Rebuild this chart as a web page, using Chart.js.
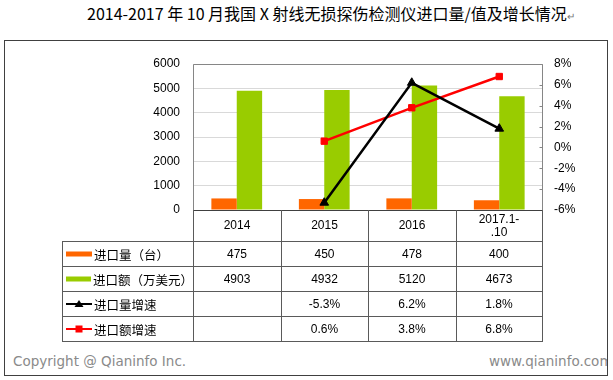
<!DOCTYPE html>
<html><head><meta charset="utf-8">
<script src="https://cdn.jsdelivr.net/npm/chart.js@4"></script>
<style>
body{margin:0;width:613px;height:380px;position:relative;background:#fff;overflow:hidden;font-family:"Liberation Sans",Arial,sans-serif}
#title{position:absolute;left:87px;top:1px;white-space:nowrap;font:16px "Noto Sans CJK SC",sans-serif;color:#000}
#title .pm{font-size:10px;color:#777}
#box{position:absolute;left:4px;top:40px;width:602px;height:334px;border:1px solid #404040;overflow:hidden}
#copy{position:absolute;left:8px;top:312px;font:13.5px "DejaVu Sans",sans-serif;color:#8a8a8a;white-space:nowrap}
#web{position:absolute;left:484px;top:312px;font:13.5px "DejaVu Sans",sans-serif;color:#8a8a8a;white-space:nowrap}
#c{position:absolute;left:0;top:0}
.ln{position:absolute;background:#5a5a5a}
.cell{position:absolute;display:flex;align-items:center;justify-content:center;text-align:center;font:12px "Liberation Sans",Arial,sans-serif;color:#000;line-height:13px}
.lab{position:absolute;display:flex;align-items:center;font:12.5px "Noto Sans CJK SC",sans-serif;color:#000;white-space:nowrap}
.lab svg{margin-left:3px;margin-right:2px}
</style></head>
<body>
<div id="title">2014-2017 年 10 月我国 X 射线无损探伤检测仪进口量/值及增长情况<span class="pm">↵</span></div>
<div id="box"><div id="copy">Copyright @ Qianinfo Inc.</div><div id="web">www.qianinfo.com</div></div>
<canvas id="c" width="613" height="380"></canvas>
<div id="tbl"></div>
<script>
const categories = [['2014'], ['2015'], ['2016'], ['2017.1-', '.10']];
const seriesNames = ['进口量（台）', '进口额（万美元）', '进口量增速', '进口额增速'];
const importQty = [475, 450, 478, 400];
const importValue = [4903, 4932, 5120, 4673];
const qtyGrowth = [null, -5.3, 6.2, 1.8];
const valueGrowth = [null, 0.6, 3.8, 6.8];
const leftTicks = [0, 1000, 2000, 3000, 4000, 5000, 6000];
const rightTicks = [-6, -4, -2, 0, 2, 4, 6, 8];

const ORANGE = '#FF6600', GREEN = '#99CC00', BLACK = '#000000', RED = '#FF0000';

const framePlugin = {
  id: 'frame',
  beforeDatasetsDraw(chart) {
    const a = chart.chartArea, ctx = chart.ctx;
    const L = Math.round(a.left) + 0.5, R = Math.round(a.right) - 0.5, T = Math.round(a.top) + 0.5, B = Math.round(a.bottom) + 0.5;
    ctx.save();
    ctx.lineWidth = 1;
    ctx.strokeStyle = '#868686';
    ctx.beginPath();
    ctx.moveTo(L, B); ctx.lineTo(L, T); ctx.lineTo(R, T); ctx.lineTo(R, B);
    ctx.stroke();
    // small inward tick marks on the right axis
    chart.scales.y1.ticks.forEach(t => {
      const y = Math.round(chart.scales.y1.getPixelForValue(t.value)) + 0.5;
      ctx.beginPath(); ctx.moveTo(R - 3, y); ctx.lineTo(R, y); ctx.stroke();
    });
    ctx.restore();
  },
  afterDatasetsDraw(chart) {
    const a = chart.chartArea, ctx = chart.ctx;
    ctx.save();
    ctx.strokeStyle = '#404040';
    ctx.lineWidth = 1;
    ctx.beginPath();
    ctx.moveTo(Math.round(a.left), Math.round(a.bottom) + 0.5);
    ctx.lineTo(Math.round(a.right), Math.round(a.bottom) + 0.5);
    ctx.stroke();
    ctx.restore();
  }
};

const chart = new Chart(document.getElementById('c'), {
  data: {
    labels: categories.map(c => c.join('')),
    datasets: [
      { type: 'line', label: seriesNames[2], data: qtyGrowth, yAxisID: 'y1', order: 0,
        borderColor: BLACK, backgroundColor: BLACK, borderWidth: 2.5, pointStyle: 'triangle',
        pointRadius: 5, pointBorderWidth: 1, tension: 0, spanGaps: false },
      { type: 'line', label: seriesNames[3], data: valueGrowth, yAxisID: 'y1', order: 0,
        borderColor: RED, backgroundColor: RED, borderWidth: 2.5, pointStyle: 'rect',
        pointRadius: 4.5, pointBorderWidth: 1, tension: 0 },
      { type: 'bar', label: seriesNames[0], data: importQty, yAxisID: 'y', order: 1,
        backgroundColor: ORANGE, categoryPercentage: 0.58, barPercentage: 1 },
      { type: 'bar', label: seriesNames[1], data: importValue, yAxisID: 'y', order: 1,
        backgroundColor: GREEN, categoryPercentage: 0.58, barPercentage: 1 }
    ]
  },
  options: {
    responsive: false,
    animation: false,
    events: [],
    layout: { padding: { top: 64, bottom: 170, left: 0, right: 0 } },
    plugins: { legend: { display: false }, title: { display: false }, tooltip: { enabled: false } },
    scales: {
      x: { display: false, offset: true },
      y: {
        position: 'left', min: 0, max: 6000,
        afterBuildTicks: s => { s.ticks = leftTicks.map(v => ({ value: v })); },
        afterFit: s => { s.width = 193; },
        ticks: { padding: 13, color: '#000', font: { family: '"Liberation Sans", Arial, sans-serif', size: 12 },
                 callback: v => String(v) },
        grid: { color: '#d9d9d9', drawTicks: false },
        border: { display: false }
      },
      y1: {
        position: 'right', min: -6, max: 8,
        afterBuildTicks: s => { s.ticks = rightTicks.map(v => ({ value: v })); },
        afterFit: s => { s.width = 70; },
        ticks: { padding: 11, color: '#000', font: { family: '"Liberation Sans", Arial, sans-serif', size: 12 },
                 callback: v => v + '%' },
        grid: { drawOnChartArea: false, drawTicks: false },
        border: { display: false }
      }
    }
  },
  plugins: [framePlugin]
});

// data table aligned to the chart's category scale
(function buildTable() {
  const a = chart.chartArea;
  const xs = chart.scales.x;
  const tbl = document.getElementById('tbl');
  const n = categories.length;
  const half = (xs.getPixelForValue(1) - xs.getPixelForValue(0)) / 2;
  const edges = [];
  for (let i = 0; i < n; i++) edges.push(Math.round(xs.getPixelForValue(i) - half));
  edges.push(Math.round(a.right) - 1);
  const tableLeft = 62;
  const top0 = Math.round(a.bottom);
  const rowsY = [top0, top0 + 31, top0 + 56, top0 + 81, top0 + 106, top0 + 131];
  const add = (cls, st, html) => { const d = document.createElement('div'); d.className = cls; Object.assign(d.style, st); if (html !== undefined) d.innerHTML = html; tbl.appendChild(d); return d; };
  for (let r = 1; r < rowsY.length; r++) add('ln', { left: tableLeft + 'px', top: rowsY[r] + 'px', width: (edges[n] - tableLeft + 1) + 'px', height: '1px' });
  add('ln', { left: tableLeft + 'px', top: rowsY[1] + 'px', width: '1px', height: (rowsY[5] - rowsY[1] + 1) + 'px' });
  edges.forEach(x => add('ln', { left: x + 'px', top: rowsY[0] + 'px', width: '1px', height: (rowsY[5] - rowsY[0] + 1) + 'px' }));
  categories.forEach((c, i) => add('cell', { left: edges[i] + 'px', top: rowsY[0] + 'px', width: (edges[i + 1] - edges[i]) + 'px', height: (rowsY[1] - rowsY[0]) + 'px' }, c.join('<br>')));
  const markers = [
    '<svg width="26" height="8"><rect x="0" y="1.5" width="26" height="5" fill="' + ORANGE + '"/></svg>',
    '<svg width="26" height="8"><rect x="0" y="1.5" width="26" height="5" fill="' + GREEN + '"/></svg>',
    '<svg width="26" height="8"><line x1="0" y1="4" x2="26" y2="4" stroke="' + BLACK + '" stroke-width="2"/><polygon points="13,0 17.5,7 8.5,7" fill="' + BLACK + '"/></svg>',
    '<svg width="26" height="8"><line x1="0" y1="4" x2="26" y2="4" stroke="' + RED + '" stroke-width="2"/><rect x="9.5" y="0.5" width="7" height="7" fill="' + RED + '"/></svg>'
  ];
  const fmtNum = v => v == null ? '' : String(v);
  const fmtPct = v => v == null ? '' : v.toFixed(1) + '%';
  const rows = [importQty.map(fmtNum), importValue.map(fmtNum), qtyGrowth.map(fmtPct), valueGrowth.map(fmtPct)];
  rows.forEach((vals, r) => {
    const y = rowsY[r + 1] + 1, h = rowsY[r + 2] - rowsY[r + 1] - 1;
    add('lab', { left: (tableLeft + 1) + 'px', top: y + 'px', width: (edges[0] - tableLeft - 1) + 'px', height: h + 'px' }, markers[r] + '<span>' + seriesNames[r] + '</span>');
    vals.forEach((t, i) => add('cell', { left: edges[i] + 'px', top: y + 'px', width: (edges[i + 1] - edges[i]) + 'px', height: h + 'px' }, t));
  });
})();
</script>
</body></html>
